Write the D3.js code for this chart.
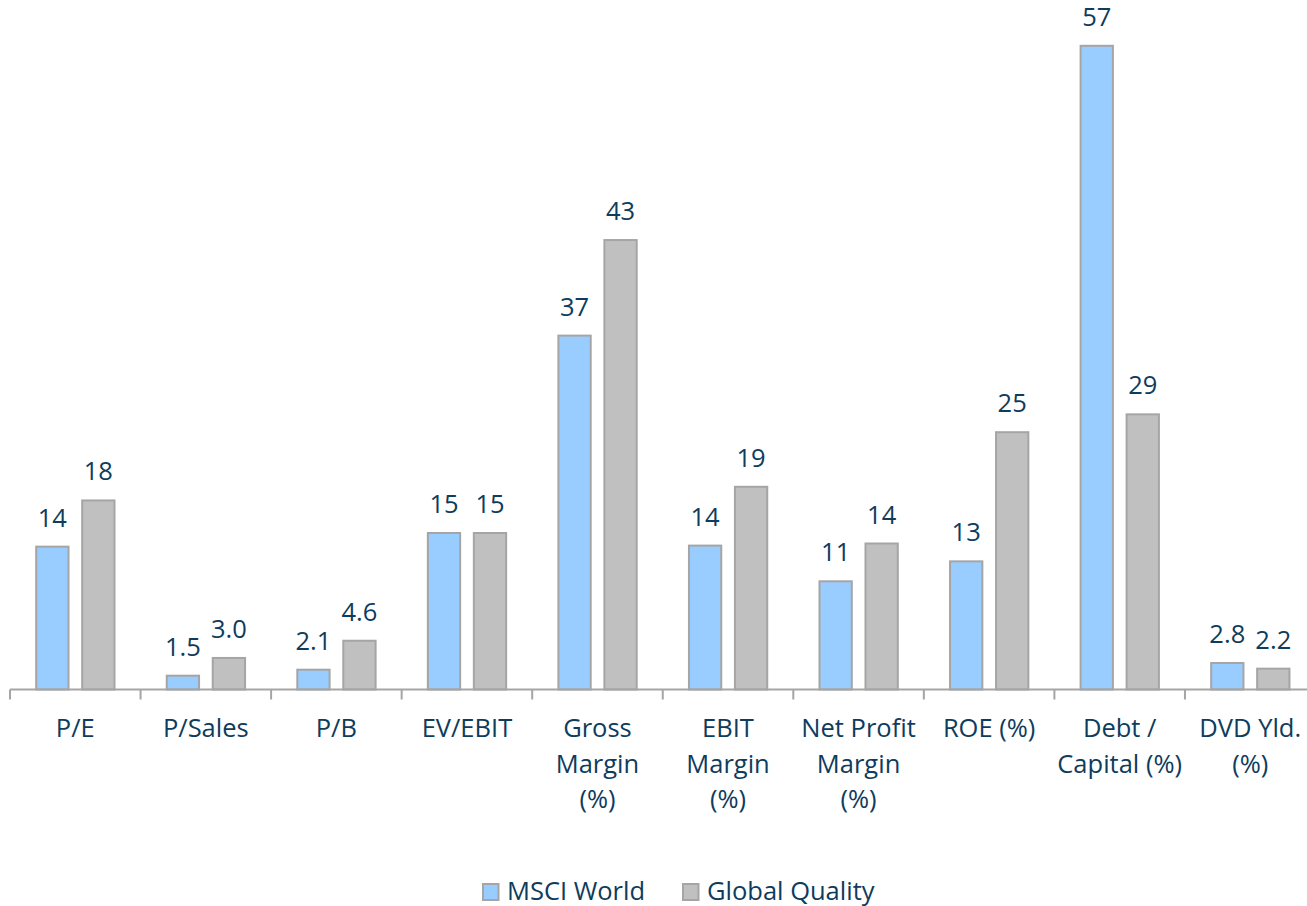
<!DOCTYPE html>
<html>
<head>
<meta charset="utf-8">
<script src="https://cdn.jsdelivr.net/npm/d3@7"></script>
<style>
  html, body { margin: 0; padding: 0; background: #ffffff; }
  svg { display: block; }
  text { font-family: "Open Sans", "Noto Sans", sans-serif; fill: #0E3C5D; }
</style>
</head>
<body>
<svg id="chart" width="1307" height="906"></svg>
<script>
// ---- data ----
const categories = ["P/E", "P/Sales", "P/B", "EV/EBIT", "Gross Margin (%)", "EBIT Margin (%)",
                    "Net Profit Margin (%)", "ROE (%)", "Debt / Capital (%)", "DVD Yld. (%)"];
const categoryLines = [["P/E"], ["P/Sales"], ["P/B"], ["EV/EBIT"], ["Gross", "Margin", "(%)"],
                       ["EBIT", "Margin", "(%)"], ["Net Profit", "Margin", "(%)"], ["ROE (%)"],
                       ["Debt /", "Capital (%)"], ["DVD Yld.", "(%)"]];
const seriesNames = ["MSCI World", "Global Quality"];
// bar heights as drawn in the picture
const msciWorld     = [13.7, 1.41, 1.98, 15.0, 33.8, 13.8, 10.4, 12.3, 61.4, 2.62];
const globalQuality = [18.1, 3.10, 4.74, 15.0, 42.9, 19.4, 14.0, 24.6, 26.3, 2.08];
// printed data labels
const msciLabels    = ["14", "1.5", "2.1", "15", "37", "14", "11", "13", "57", "2.8"];
const globalLabels  = ["18", "3.0", "4.6", "15", "43", "19", "14", "25", "29", "2.2"];

const colors = ["#99CCFF", "#C0C0C0"];
const strokeColor = "#A5A5A5";

// ---- layout ----
const svg = d3.select("#chart");
const baseline = 689.5;

const x0 = d3.scaleBand().domain(categories).range([10, 1315.5]).paddingInner(0).paddingOuter(0);
const x1 = d3.scaleBand().domain(seriesNames).range([25.2, 105.5]).paddingInner(0.254).paddingOuter(0);
const y = d3.scaleLinear().domain([0, 65]).range([baseline, baseline - 65 * 10.5]);

const rows = categories.map((c, i) => ({
  cat: c,
  vals: [
    { s: seriesNames[0], v: msciWorld[i], label: msciLabels[i], color: colors[0] },
    { s: seriesNames[1], v: globalQuality[i], label: globalLabels[i], color: colors[1] }
  ]
}));

const groups = svg.selectAll("g.cat").data(rows).join("g")
  .attr("class", "cat")
  .attr("transform", d => `translate(${x0(d.cat)},0)`);

groups.selectAll("rect").data(d => d.vals).join("rect")
  .attr("x", d => x1(d.s) + 1)
  .attr("width", x1.bandwidth() - 2)
  .attr("y", d => y(d.v) + 1)
  .attr("height", d => baseline - y(d.v) - 1)
  .attr("fill", d => d.color)
  .attr("stroke", strokeColor)
  .attr("stroke-width", 2);

groups.selectAll("text.val").data(d => d.vals).join("text")
  .attr("class", "val")
  .attr("x", d => x1(d.s) + x1.bandwidth() / 2)
  .attr("y", d => y(d.v) - 19)
  .attr("text-anchor", "middle")
  .style("font-size", "25.5px")
  .text(d => d.label);

// axis
const axis = d3.axisBottom(x0).tickSize(0).tickFormat("");
const axG = svg.append("g").attr("transform", `translate(0,${baseline})`).call(axis);
axG.select(".domain").attr("stroke", strokeColor).attr("stroke-width", 2).attr("d", "M10,0H1315.5");
// boundary ticks
const bounds = categories.map(c => x0(c)).concat([x0.range()[1]]);
axG.selectAll("line.bt").data(bounds).join("line")
  .attr("class", "bt")
  .attr("x1", d => d).attr("x2", d => d)
  .attr("y1", 0).attr("y2", 10)
  .attr("stroke", strokeColor).attr("stroke-width", 2);

// category labels
const catLabels = svg.selectAll("text.cat").data(categories).join("text")
  .attr("class", "cat")
  .attr("text-anchor", "middle")
  .attr("x", d => x0(d) + x0.bandwidth() / 2)
  .attr("y", 737)
  .style("font-size", "25.5px");
catLabels.each(function(d, i) {
  d3.select(this).selectAll("tspan").data(categoryLines[i]).join("tspan")
    .attr("x", x0(d) + x0.bandwidth() / 2)
    .attr("dy", (t, j) => j === 0 ? 0 : 35.5)
    .text(t => t);
});

// legend
const legendItems = [
  { name: seriesNames[0], color: colors[0], x: 482 },
  { name: seriesNames[1], color: colors[1], x: 682 }
];
const lg = svg.selectAll("g.legend").data(legendItems).join("g")
  .attr("class", "legend")
  .attr("transform", d => `translate(${d.x},0)`);
lg.append("rect")
  .attr("x", 1).attr("y", 884).attr("width", 15.5).attr("height", 16)
  .attr("fill", d => d.color).attr("stroke", strokeColor).attr("stroke-width", 2);
lg.append("text")
  .attr("x", 25).attr("y", 899.5)
  .style("font-size", "25.5px")
  .text(d => d.name);
</script>
</body>
</html>
